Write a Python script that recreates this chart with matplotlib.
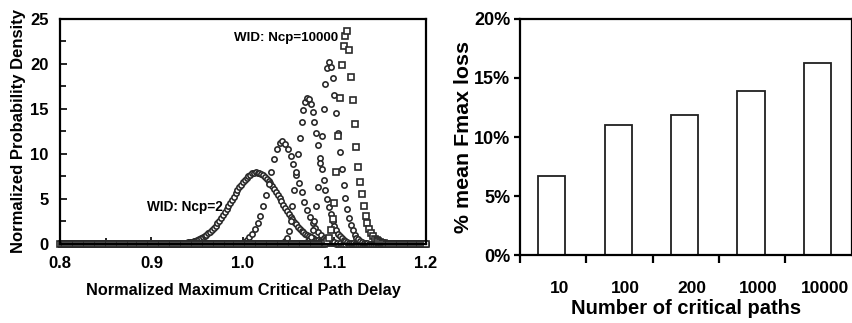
import numpy as np
import matplotlib
matplotlib.use('Agg')
import matplotlib.pyplot as plt

plt.rcParams['font.family'] = ['Liberation Sans', 'DejaVu Sans']
plt.rcParams['font.weight'] = 'bold'

# --- left panel: max critical path delay distributions ---
# each curve is sampled on a regular grid from 0.8 to 1.2, zero outside the bump
grid_start = 0.8
grid_stop = 1.2

ncp2_step = 0.002
ncp2_bump_x0 = 0.932
ncp2_bump_y = [0.07, 0.09, 0.12, 0.14, 0.18, 0.22, 0.26, 0.32, 0.38, 0.46,
               0.55, 0.65, 0.76, 0.89, 1.04, 1.20, 1.38, 1.58, 1.80, 2.04,
               2.30, 2.58, 2.87, 3.19, 3.52, 3.85, 4.20, 4.55, 4.91, 5.27,
               5.62, 5.96, 6.29, 6.60, 6.88, 7.14, 7.37, 7.57, 7.72, 7.84,
               7.92, 7.95, 7.94, 7.88, 7.79, 7.65, 7.47, 7.26, 7.01, 6.74,
               6.44, 6.12, 5.79, 5.44, 5.09, 4.73, 4.38, 4.02, 3.68, 3.35,
               3.03, 2.73, 2.44, 2.17, 1.92, 1.69, 1.48, 1.30, 1.14, 1.0,
               0.88, 0.76, 0.66, 0.57, 0.48, 0.41, 0.34, 0.28, 0.23, 0.19,
               0.15, 0.12, 0.10, 0.08, 0.06, 0.05, 0.04, 0.03, 0.02]

ncp10_step = 0.003
ncp10_bump_x0 = 0.997
ncp10_bump_y = [0.1, 0.25, 0.45, 0.8, 1.15, 1.7, 2.3, 3.1, 4.2, 5.4,
                6.7, 8.0, 9.4, 10.5, 11.2, 11.4, 11.1, 10.6, 9.8, 8.9,
                7.7, 6.8, 5.8, 4.7, 3.8, 3.0, 2.3, 1.8, 1.35, 1.0,
                0.72, 0.5, 0.36, 0.25, 0.17, 0.11, 0.07]

ncp100_step = 0.002
ncp100_bump_x0 = 1.044
ncp100_bump_y = [0.1, 0.3, 0.7, 1.4, 2.6, 4.2, 6.0, 8.0, 10.0, 11.8,
                 13.5, 14.9, 15.8, 16.2, 16.1, 15.6, 14.7, 13.6, 12.3, 11.0,
                 9.6, 8.3, 7.1, 6.0, 5.0, 4.1, 3.3, 2.6, 2.0, 1.55,
                 1.15, 0.85, 0.62, 0.45, 0.32, 0.22, 0.15, 0.1, 0.06]

ncp1000_step = 0.002
ncp1000_bump_x0 = 1.068
ncp1000_bump_y = [0.1, 0.2, 0.4, 0.8, 1.5, 2.6, 4.2, 6.3, 9.0, 12.0,
                  15.0, 17.8, 19.6, 20.2, 19.7, 18.4, 16.6, 14.5, 12.3, 10.2,
                  8.3, 6.6, 5.1, 3.9, 2.9, 2.1, 1.5, 1.05, 0.72, 0.5,
                  0.34, 0.23, 0.15, 0.1, 0.06]

ncp10000_step = 0.002
ncp10000_bump_x0 = 1.090
ncp10000_bump_y = [0.1, 0.3, 0.7, 1.5, 2.8, 4.6, 8.0, 12.0, 16.2, 19.9,
                   22.0, 23.1, 23.7, 21.5, 18.5, 16.0, 13.3, 10.8, 8.6, 6.9,
                   5.5, 4.2, 3.1, 2.3, 1.7, 1.2, 0.85, 0.6, 0.42, 0.3,
                   0.2, 0.13, 0.08]

# --- right panel: mean Fmax loss ---
paths = ['10', '100', '200', '1000', '10000']
fmax_loss = [6.7, 11.0, 11.9, 13.9, 16.3]


def build_curve(step, x0, bump):
    x = np.round(np.arange(grid_start, grid_stop + step / 2, step), 4)
    y = np.zeros(len(x))
    i0 = int(round((x0 - grid_start) / step))
    y[i0:i0 + len(bump)] = bump
    return x, y


fig = plt.figure(figsize=(8.53, 3.23), dpi=100)

ax1 = fig.add_axes([0.0703, 0.2446, 0.4291, 0.6966])
curves = [
    (ncp2_step, ncp2_bump_x0, ncp2_bump_y, 'o'),
    (ncp10_step, ncp10_bump_x0, ncp10_bump_y, 'o'),
    (ncp100_step, ncp100_bump_x0, ncp100_bump_y, 'o'),
    (ncp1000_step, ncp1000_bump_x0, ncp1000_bump_y, 'o'),
    (ncp10000_step, ncp10000_bump_x0, ncp10000_bump_y, 's'),
]
for step, x0, bump, mk in curves:
    x, y = build_curve(step, x0, bump)
    ax1.plot(x, y, linestyle='none', marker=mk, markersize=3.8,
             markerfacecolor='white', markeredgecolor='#2a2a2a',
             markeredgewidth=1.2, clip_on=False)

ax1.set_xlim(0.8, 1.2)
ax1.set_ylim(0, 25)
ax1.set_xticks([0.8, 0.9, 1.0, 1.1, 1.2])
ax1.set_xticklabels(['0.8', '0.9', '1.0', '1.1', '1.2'])
ax1.set_xticks([0.85, 0.95, 1.05, 1.15], minor=True)
ax1.set_yticks([0, 5, 10, 15, 20, 25])
ax1.set_yticks([2.5, 7.5, 12.5, 17.5, 22.5], minor=True)
ax1.tick_params(direction='in', which='both', labelsize=12, width=1.2)
ax1.tick_params(axis='x', which='major', length=5, pad=9)
ax1.tick_params(axis='y', which='major', length=5, pad=8)
ax1.tick_params(which='minor', length=4)
for s in ax1.spines.values():
    s.set_linewidth(1.6)
ax1.set_xlabel('Normalized Maximum Critical Path Delay', fontsize=11.7,
               fontweight='bold', labelpad=8)
ax1.set_ylabel('Normalized Probability Density', fontsize=12,
               fontweight='bold', labelpad=3)
ax1.text(0.937, 4.15, 'WID: Ncp=2', fontsize=9.8, fontweight='bold',
         ha='center', va='center')
ax1.text(1.047, 22.9, 'WID: Ncp=10000', fontsize=9.6, fontweight='bold',
         ha='center', va='center')

# right panel bars
ax2 = fig.add_axes([0.6096, 0.2105, 0.389, 0.7307])
pos = np.arange(len(paths))
ax2.bar(pos - 0.02, fmax_loss, width=0.41, color='white',
        edgecolor='#202020', linewidth=1.3)
ax2.set_xlim(-0.5, len(paths) - 0.5)
ax2.set_ylim(0, 20)
ax2.set_yticks([0, 5, 10, 15, 20])
ax2.set_yticklabels(['0%', '5%', '10%', '15%', '20%'])
ax2.set_xticks(pos + 0.09)
ax2.set_xticklabels(paths)
ax2.set_xticks(np.arange(len(paths)) - 0.5, minor=True)
ax2.tick_params(axis='x', which='major', length=0, pad=19, labelsize=12.5)
ax2.tick_params(axis='x', which='minor', length=6, width=1.6)
ax2.tick_params(axis='y', which='major', length=4, width=1.6, labelsize=13, pad=3)
for s in ax2.spines.values():
    s.set_linewidth(1.6)
ax2.set_xlabel('Number of critical paths', fontsize=14.5, fontweight='bold',
               labelpad=2)
ax2.set_ylabel('% mean Fmax loss', fontsize=15.4, fontweight='bold',
               labelpad=1)

plt.savefig('out.png', dpi=100)
